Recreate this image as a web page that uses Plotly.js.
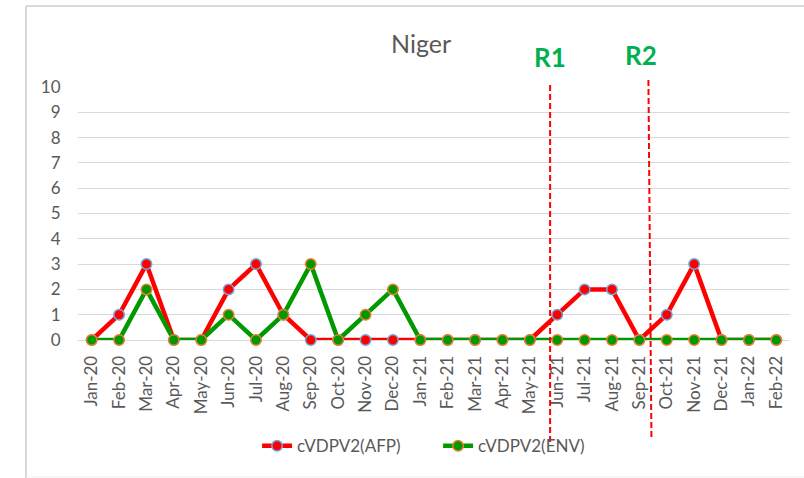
<!DOCTYPE html>
<html>
<head>
<meta charset="utf-8">
<script src="https://cdn.plot.ly/plotly-3.0.1.min.js"></script>
<style>
  html, body { margin: 0; padding: 0; background: #fff; }
  #chart { width: 804px; height: 478px; }
</style>
</head>
<body>
<div id="chart"></div>
<script>
const months = ["Jan-20","Feb-20","Mar-20","Apr-20","May-20","Jun-20","Jul-20","Aug-20","Sep-20","Oct-20","Nov-20","Dec-20",
                "Jan-21","Feb-21","Mar-21","Apr-21","May-21","Jun-21","Jul-21","Aug-21","Sep-21","Oct-21","Nov-21","Dec-21",
                "Jan-22","Feb-22"];
const afp = [0,1,3,0,0,2,3,1,0,0,0,0, 0,0,0,0,0,1,2,2,0,1,3,0, 0,0];
const env = [0,0,2,0,0,1,0,1,3,0,1,2, 0,0,0,0,0,0,0,0,0,0,0,0, 0,0];
const yTicks = [0,1,2,3,4,5,6,7,8,9,10];
const roundLabels = ["R1","R2"];
// round markers sit between categories (category index units)
const roundPos = [16.74, 20.33];

const textColor = "#595959";
const gridColor = "#d9d9d9";

const traces = [
  {
    x: months, y: afp, name: "cVDPV2(AFP)", type: "scatter", mode: "lines+markers",
    line: {color: "#ff0000", width: 4.5},
    marker: {color: "#ff0000", size: 10.5, line: {color: "#6fa8dc", width: 1.5}},
    cliponaxis: false
  },
  {
    x: months, y: env, name: "cVDPV2(ENV)", type: "scatter", mode: "lines+markers",
    line: {color: "#009900", width: 4.5},
    marker: {color: "#009900", size: 10.5, line: {color: "#ed7d31", width: 1.5}},
    cliponaxis: false
  }
];

const layout = {
  width: 804, height: 478,
  margin: {l: 78, r: 14, t: 87, b: 138, pad: 0},
  paper_bgcolor: "#fff", plot_bgcolor: "#fff",
  font: {family: "Lato, 'Open Sans', sans-serif", color: textColor, size: 17},
  showlegend: true,
  legend: {
    orientation: "h", x: 0.2515, y: -0.42, xanchor: "left", yanchor: "middle",
    entrywidth: 136, entrywidthmode: "pixels",
    font: {size: 17, color: textColor}, bgcolor: "rgba(0,0,0,0)"
  },
  xaxis: {
    type: "category", range: [-0.5, 25.5], tickangle: -90,
    showgrid: false, showline: false, zeroline: false,
    ticks: "outside", ticklen: 8, tickcolor: "rgba(0,0,0,0)",
    tickfont: {size: 17, color: textColor}, fixedrange: true
  },
  yaxis: {
    range: [0, 10], tickvals: yTicks, showgrid: true, gridcolor: gridColor, gridwidth: 1,
    zeroline: true, zerolinecolor: gridColor, zerolinewidth: 1, showline: false,
    ticks: "outside", ticklen: 13, tickcolor: "rgba(0,0,0,0)",
    tickfont: {size: 17, color: textColor}, fixedrange: true
  },
  annotations: [
    {text: "Niger", xref: "paper", yref: "paper", x: 0.4817, y: 1.172, xanchor: "center", yanchor: "middle",
     showarrow: false, font: {size: 25, color: textColor}},
    {text: "<b>" + roundLabels[0] + "</b>", xref: "x", yref: "paper", x: roundPos[0], y: 1.118,
     xanchor: "center", yanchor: "middle", showarrow: false, font: {size: 26, color: "#00b050"}},
    {text: "<b>" + roundLabels[1] + "</b>", xref: "x", yref: "paper", x: roundPos[1] - 0.27, y: 1.126,
     xanchor: "center", yanchor: "middle", showarrow: false, font: {size: 26, color: "#00b050"}}
  ],
  shapes: [
    {type: "line", xref: "x", yref: "paper", x0: roundPos[0], x1: roundPos[0], y0: 1.008, y1: -0.403,
     line: {color: "#ff0000", width: 2, dash: "6px,3px"}},
    {type: "line", xref: "x", yref: "paper", x0: roundPos[1], x1: roundPos[1] + 0.11, y0: 1.028, y1: -0.387,
     line: {color: "#ff0000", width: 2, dash: "6px,3px"}},
    // chart frame
    {type: "line", xref: "paper", yref: "paper", x0: -0.073, x1: -0.073, y0: 1.320, y1: -0.545,
     line: {color: gridColor, width: 2}},
    {type: "line", xref: "paper", yref: "paper", x0: -0.073, x1: 1.03, y0: 1.320, y1: 1.320,
     line: {color: gridColor, width: 2}},
    {type: "line", xref: "paper", yref: "paper", x0: -0.073, x1: 1.03, y0: -0.541, y1: -0.541,
     line: {color: "#f0f0f0", width: 1}}
  ]
};

Plotly.newPlot("chart", traces, layout, {displayModeBar: false, staticPlot: true});
</script>
</body>
</html>
